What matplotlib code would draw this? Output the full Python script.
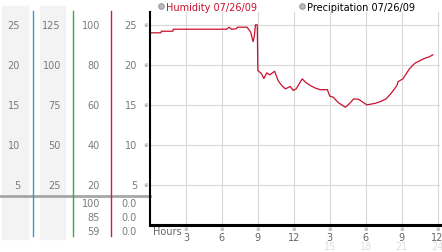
import matplotlib
matplotlib.use("Agg")
import matplotlib.pyplot as plt
from matplotlib.transforms import blended_transform_factory

# -----------------------------
# data
# -----------------------------
hours = [0, 0.9, 0.95, 1.9, 1.95, 6.4, 6.6, 6.8, 7.2, 7.3, 8.1, 8.4, 8.6, 8.7,
         8.8, 8.95, 9.0, 9.3, 9.5, 9.75, 10.0, 10.4, 10.7, 11.0, 11.3, 11.7,
         11.95, 12.2, 12.7, 13.0, 13.4, 13.8, 14.2, 14.8, 15.0, 15.3, 15.7,
         16.3, 16.6, 17.0, 17.4, 17.7, 18.1, 18.8, 19.2, 19.7, 20.1, 20.6,
         20.7, 21.1, 21.65, 22.1, 22.5, 22.9, 23.3, 23.6]
humidity = [24.0, 24.0, 24.2, 24.2, 24.45, 24.45, 24.7, 24.45, 24.5, 24.7,
            24.7, 24.1, 22.9, 23.5, 25.0, 25.0, 19.3, 18.9, 18.3, 19.0, 18.75,
            19.2, 18.0, 17.4, 17.0, 17.3, 16.8, 17.0, 18.25, 17.8, 17.4, 17.1,
            16.9, 16.9, 16.1, 15.95, 15.3, 14.7, 15.1, 15.75, 15.7, 15.4, 15.0,
            15.2, 15.4, 15.75, 16.4, 17.4, 17.9, 18.25, 19.5, 20.2, 20.5, 20.8,
            21.0, 21.25]

y_ticks = [25, 20, 15, 10, 5]
col1 = ["25", "20", "15", "10", "5"]
col2 = ["125", "100", "75", "50", "25"]
col3 = ["100", "80", "60", "40", "20"]
col4 = ["25", "20", "15", "10", "5"]
col3_bottom = ["100", "85", "59"]
col4_bottom = ["0.0", "0.0", "0.0"]

x_ticks = [3, 6, 9, 12, 15, 18, 21, 24]
x_top = ["3", "6", "9", "12", "3", "6", "9", "12"]
x_bottom = ["", "", "", "", "15", "18", "21", "24"]

W, H = 442, 253
RED = "#c8102e"
GRAY = "#7a7a7a"
FS = 7

fig = plt.figure(figsize=(W / 100, H / 100), dpi=100)
fig.patch.set_facecolor("white")

# overlay in pixel coordinates for the side panel
pan = fig.add_axes([0, 0, 1, 1])
pan.set_xlim(0, W)
pan.set_ylim(H, 0)
pan.axis("off")

# main plot
ax = fig.add_axes([150 / W, (H - 226) / H, (440 - 150) / W, (226 - 13) / H])
ax.set_xlim(0, 24.2)
ax.set_ylim(0, 26.6)
ax.set_xticks(x_ticks)
ax.set_yticks(y_ticks)
ax.grid(True, color="#d9d9d9", linewidth=0.8)
ax.tick_params(length=0, labelbottom=False, labelleft=False)
for s in ["top", "right"]:
    ax.spines[s].set_visible(False)
ax.spines["left"].set_linewidth(1.5)
ax.spines["bottom"].set_linewidth(2.2)
ax.set_facecolor("none")

ax.plot(hours, humidity, color=RED, linewidth=0.9)

# side panel: shaded columns and coloured dividers
pan.axvspan(2, 28, ymin=1 - 240 / H, ymax=1 - 7 / H, color="#f3f3f3", zorder=0)
pan.axvspan(40, 65, ymin=1 - 240 / H, ymax=1 - 7 / H, color="#f3f3f3", zorder=0)
pan.plot([0, 150], [197, 197], color="#a6a6a6", linewidth=2, zorder=1)
for xv, c in [(33, "#3399cc"), (72.5, "#33aa33"), (111, "#cc2233")]:
    pan.plot([xv, xv], [12, 237], color=c, linewidth=1, zorder=2)

ytr = blended_transform_factory(pan.transData, ax.transData)
for yv, a, b, c, d in zip(y_ticks, col1, col2, col3, col4):
    pan.text(20, yv, a, transform=ytr, ha="right", va="center", fontsize=FS, color=GRAY)
    pan.text(61, yv, b, transform=ytr, ha="right", va="center", fontsize=FS, color=GRAY)
    pan.text(100, yv, c, transform=ytr, ha="right", va="center", fontsize=FS, color=GRAY)
    pan.text(137, yv, d, transform=ytr, ha="right", va="center", fontsize=FS, color=GRAY)
    pan.text(145.5, yv, "※", transform=ytr, ha="center", va="center", fontsize=4, color=GRAY)

for i, (c, d) in enumerate(zip(col3_bottom, col4_bottom)):
    yy = 204 + i * 14
    pan.text(100, yy, c, ha="right", va="center", fontsize=FS, color=GRAY)
    pan.text(137, yy, d, ha="right", va="center", fontsize=FS, color=GRAY)

# x labels
xtr = blended_transform_factory(ax.transData, pan.transData)
pan.text(153, 232, "Hours", ha="left", va="center", fontsize=FS, color="#666666")
for xv, t, b in zip(x_ticks, x_top, x_bottom):
    pan.text(xv, 230, "※", transform=xtr, ha="center", va="center", fontsize=4, color=GRAY)
    pan.text(xv, 238.5, t, transform=xtr, ha="center", va="center", fontsize=FS, color="#666666")
    if b:
        pan.text(xv, 247.5, b, transform=xtr, ha="center", va="center", fontsize=FS, color="#dddddd")

# legend
pan.plot([161], [7], "o", markersize=4, markerfacecolor="#bbbbbb", markeredgecolor="#888888", markeredgewidth=0.6)
pan.text(166, 7.5, "Humidity 07/26/09", ha="left", va="center", fontsize=FS, color=RED)
pan.plot([302], [7], "o", markersize=4, markerfacecolor="#bbbbbb", markeredgecolor="#888888", markeredgewidth=0.6)
pan.text(307, 7.5, "Precipitation 07/26/09", ha="left", va="center", fontsize=FS, color="black")

fig.savefig("out.png", dpi=100)
